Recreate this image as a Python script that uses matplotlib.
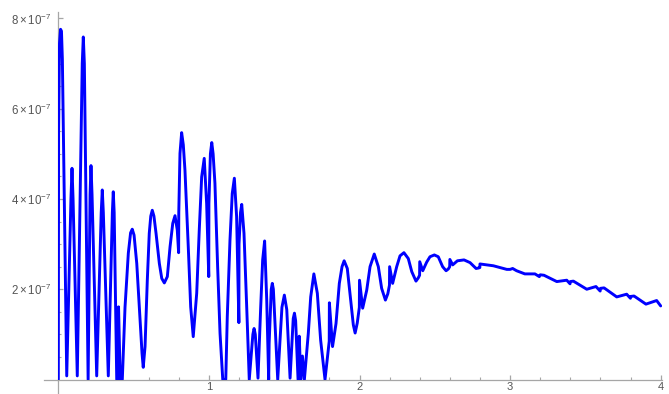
import matplotlib
matplotlib.use("Agg")
import matplotlib.pyplot as plt
from matplotlib.ticker import FixedLocator, NullFormatter

# curve: x and y (in units of 1e-7)
x_vals = [
    0.000, 0.002, 0.008, 0.015, 0.021, 0.027, 0.056,
    0.084, 0.091, 0.098, 0.126,
    0.159, 0.166, 0.173, 0.198,
    0.211, 0.217, 0.224, 0.255,
    0.285, 0.292, 0.299, 0.332,
    0.359, 0.365, 0.371, 0.388, 0.399, 0.400, 0.411, 0.425,
    0.443, 0.465, 0.480, 0.491, 0.503, 0.521, 0.543, 0.556, 0.564,
    0.576, 0.591, 0.604, 0.614, 0.624, 0.635, 0.649, 0.671, 0.687, 0.704,
    0.724, 0.742, 0.760, 0.775, 0.790, 0.799, 0.800, 0.808, 0.819, 0.830,
    0.841, 0.863, 0.879, 0.896, 0.919, 0.936, 0.952, 0.969, 0.985, 0.999,
    1.000, 1.010, 1.019, 1.028, 1.040, 1.058, 1.074, 1.092, 1.112,
    1.122, 1.140, 1.155, 1.169, 1.184, 1.199, 1.200, 1.210, 1.218,
    1.233, 1.251, 1.268, 1.292, 1.300, 1.308, 1.326,
    1.344, 1.357, 1.370, 1.384, 1.397, 1.400, 1.414, 1.421, 1.428, 1.457,
    1.485, 1.501, 1.517, 1.539, 1.560, 1.568, 1.576, 1.592, 1.599, 1.600,
    1.610, 1.621, 1.634, 1.660, 1.676, 1.697, 1.720, 1.742, 1.771, 1.799,
    1.800, 1.821, 1.844, 1.866, 1.884, 1.898, 1.919, 1.941, 1.959, 1.971,
    1.985, 1.999, 2.000, 2.021, 2.048, 2.070, 2.098, 2.125, 2.147, 2.172,
    2.188, 2.199, 2.200, 2.220, 2.247, 2.269, 2.295, 2.324, 2.347, 2.375,
    2.390, 2.399, 2.400, 2.420, 2.446, 2.468, 2.497, 2.523, 2.552, 2.575,
    2.590, 2.599, 2.600, 2.619, 2.650, 2.694, 2.734, 2.774, 2.790, 2.799,
    2.800, 2.845, 2.889, 2.933, 2.978, 3.000, 3.017, 3.043, 3.098, 3.165,
    3.194, 3.200, 3.225, 3.310, 3.376, 3.398, 3.400, 3.420, 3.509, 3.570,
    3.598, 3.600, 3.624, 3.708, 3.774, 3.799, 3.800, 3.823, 3.902, 3.973,
    4.000,
]
y_vals = [
    0.00, 5.50, 7.45, 7.76, 7.72, 7.10, 0.08,
    4.00, 4.68, 4.00, 0.08,
    7.00, 7.59, 7.00, 0.00,
    4.10, 4.74, 4.10, 0.08,
    3.70, 4.20, 3.70, 0.08,
    3.70, 4.16, 3.70, 0.00, 0.00, 1.61, 0.00, 0.00,
    1.60, 2.80, 3.25, 3.33, 3.20, 2.57, 1.32, 0.58, 0.27,
    0.73, 2.20, 3.24, 3.62, 3.75, 3.62, 3.24, 2.57, 2.24, 2.14,
    2.28, 2.94, 3.46, 3.63, 3.31, 2.81, 3.70, 5.01, 5.47, 5.20,
    4.64, 2.94, 1.61, 0.95, 1.91, 3.31, 4.49, 4.90, 3.90, 2.28,
    3.90, 5.00, 5.25, 5.00, 4.35, 2.50, 1.02, 0.00, 0.00,
    1.39, 3.09, 4.12, 4.46, 3.61, 1.26, 3.00, 3.70, 3.88,
    3.24, 1.61, 0.00, 1.00, 1.13, 1.00, 0.03,
    1.61, 2.65, 3.07, 1.76, 0.00, 0.80, 2.00, 2.13, 2.00, 0.00,
    1.60, 1.87, 1.55, 0.03, 1.35, 1.47, 1.30, 0.00, 0.00, 0.96,
    0.00, 0.52, 0.00, 1.02, 1.83, 2.34, 1.91, 0.87, 0.00, 0.85,
    1.70, 0.73, 1.24, 2.13, 2.50, 2.63, 2.46, 1.76, 1.21, 1.03,
    1.25, 1.60, 2.20, 1.58, 1.98, 2.50, 2.78, 2.50, 2.02, 1.76,
    1.90, 2.09, 2.50, 2.13, 2.50, 2.74, 2.81, 2.68, 2.39, 2.18,
    2.25, 2.31, 2.61, 2.41, 2.60, 2.72, 2.76, 2.72, 2.50, 2.41,
    2.45, 2.50, 2.66, 2.54, 2.63, 2.65, 2.59, 2.46, 2.47, 2.48,
    2.56, 2.54, 2.52, 2.48, 2.44, 2.44, 2.46, 2.41, 2.34, 2.34,
    2.28, 2.32, 2.31, 2.17, 2.20, 2.12, 2.17, 2.18, 2.00, 2.06,
    1.96, 2.02, 2.03, 1.83, 1.89, 1.80, 1.84, 1.85, 1.67, 1.75,
    1.63,
]
y_scale = 1e-7

x_major = [1, 2, 3, 4]
x_major_labels = ["1", "2", "3", "4"]
x_minor = [0.2, 0.4, 0.6, 0.8, 1.2, 1.4, 1.6, 1.8, 2.2, 2.4, 2.6, 2.8,
           3.2, 3.4, 3.6, 3.8]
y_major = [2, 4, 6, 8]
y_major_labels = [r"$2\times10^{-7}$", r"$4\times10^{-7}$",
                  r"$6\times10^{-7}$", r"$8\times10^{-7}$"]
y_minor = [0.5, 1.0, 1.5, 2.5, 3.0, 3.5, 4.5, 5.0, 5.5, 6.5, 7.0, 7.5]

plt.rcParams["font.family"] = ["Liberation Sans", "DejaVu Sans"]
plt.rcParams["mathtext.fontset"] = "custom"
plt.rcParams["mathtext.rm"] = "Liberation Sans"
plt.rcParams["mathtext.it"] = "Liberation Sans:italic"
plt.rcParams["mathtext.bf"] = "Liberation Sans:bold"
plt.rcParams["mathtext.default"] = "regular"

W, H = 669, 394
x0_px, y0_px = 58.3, 379.5          # pixel position of the origin
px_per_x = 150.6
x_right = 4.01
y_top = 8.15e-7
fig = plt.figure(figsize=(W / 100, H / 100), dpi=100)
ax = fig.add_axes([x0_px / W, (H - y0_px) / H,
                   x_right * px_per_x / W, (y0_px - 11.7) / H])

ys = [v * y_scale for v in y_vals]
ax.plot(x_vals, ys, color=(0.0, 0.0, 1.0), lw=2.1, solid_joinstyle="round",
        solid_capstyle="round", zorder=3)

ax.set_xlim(0, x_right)
ax.set_ylim(0, y_top)

axis_col = "#a6a6a6"
for s in ["top", "right"]:
    ax.spines[s].set_visible(False)
for s in ["left", "bottom"]:
    ax.spines[s].set_color(axis_col)
    ax.spines[s].set_linewidth(0.9)
    ax.spines[s].set_zorder(1)

# axis lines continue a little past the origin (left and below)
x_pad = (x0_px - 44) / px_per_x
y_pad = (H - y0_px) / (y0_px - 11.7) * y_top
ax.plot([-x_pad, 0], [0, 0], color=axis_col, lw=0.9, clip_on=False, zorder=1)
ax.plot([0, 0], [-y_pad, 0], color=axis_col, lw=0.9, clip_on=False, zorder=1)

ax.xaxis.set_major_locator(FixedLocator(x_major))
ax.set_xticklabels(x_major_labels)
ax.xaxis.set_minor_locator(FixedLocator(x_minor))
ax.yaxis.set_major_locator(FixedLocator([v * y_scale for v in y_major]))
ax.set_yticklabels(y_major_labels)
ax.yaxis.set_minor_locator(FixedLocator([v * y_scale for v in y_minor]))
ax.xaxis.set_minor_formatter(NullFormatter())
ax.yaxis.set_minor_formatter(NullFormatter())

ax.tick_params(which="major", direction="in", length=3.6, width=0.9,
               color=axis_col, labelcolor="#555555", labelsize=8.3)
ax.tick_params(which="minor", direction="in", length=2.0, width=0.8,
               color=axis_col)
ax.tick_params(axis="y", which="major", pad=4.6)
ax.tick_params(axis="x", which="major", pad=1.5, labelsize=8)

fig.savefig("out.png", dpi=100)
